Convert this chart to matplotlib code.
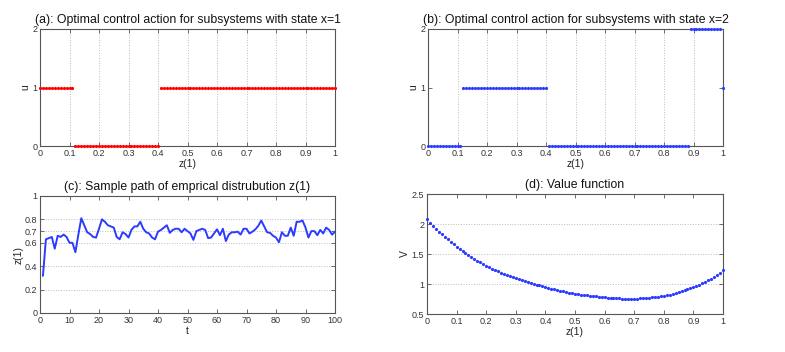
import numpy as np
import matplotlib
matplotlib.use("Agg")
import matplotlib.pyplot as plt

# ---- data ----
z_grid = [round(i * 0.01, 2) for i in range(101)]
u_x1 = [1] * 12 + [0] * 29 + [1] * 60
u_x2 = [0] * 12 + [1] * 29 + [0] * 48 + [2] * 11 + [1]

t_vals = list(range(1, 101))
z_path = [0.32, 0.63, 0.64, 0.65, 0.55, 0.66, 0.65, 0.67, 0.65, 0.60,
          0.60, 0.52, 0.67, 0.81, 0.75, 0.69, 0.675, 0.65, 0.645, 0.72,
          0.80, 0.78, 0.75, 0.74, 0.73, 0.65, 0.63, 0.69, 0.675, 0.645,
          0.71, 0.74, 0.74, 0.78, 0.72, 0.69, 0.68, 0.645, 0.63, 0.695,
          0.71, 0.73, 0.75, 0.685, 0.71, 0.72, 0.72, 0.69, 0.72, 0.70,
          0.68, 0.625, 0.70, 0.71, 0.72, 0.71, 0.64, 0.645, 0.68, 0.715,
          0.665, 0.72, 0.615, 0.67, 0.69, 0.69, 0.695, 0.67, 0.72, 0.72,
          0.68, 0.695, 0.715, 0.745, 0.79, 0.74, 0.69, 0.685, 0.66, 0.645,
          0.605, 0.69, 0.66, 0.66, 0.73, 0.66, 0.78, 0.78, 0.79, 0.73,
          0.645, 0.70, 0.70, 0.665, 0.71, 0.68, 0.73, 0.71, 0.67, 0.695]

value_fn = [2.08, 2.01, 1.963, 1.917, 1.872, 1.828, 1.785, 1.743, 1.702, 1.661,
            1.621, 1.585, 1.550, 1.516, 1.483, 1.451, 1.420, 1.390, 1.361, 1.333,
            1.305, 1.280, 1.256, 1.233, 1.211, 1.190, 1.170, 1.151, 1.133, 1.115,
            1.098, 1.081, 1.065, 1.049, 1.034, 1.019, 1.004, 0.990, 0.976, 0.963,
            0.948, 0.935, 0.922, 0.910, 0.898, 0.887, 0.876, 0.866, 0.857, 0.848,
            0.840, 0.832, 0.824, 0.817, 0.810, 0.804, 0.798, 0.792, 0.787, 0.782,
            0.777, 0.773, 0.769, 0.765, 0.762, 0.759, 0.757, 0.756, 0.755, 0.755,
            0.756, 0.757, 0.759, 0.762, 0.766, 0.771, 0.776, 0.782, 0.789, 0.796,
            0.804, 0.814, 0.825, 0.837, 0.850, 0.864, 0.879, 0.895, 0.912, 0.930,
            0.950, 0.970, 0.991, 1.013, 1.036, 1.061, 1.088, 1.117, 1.148, 1.181,
            1.24]

z_ticks = [0, 0.1, 0.2, 0.3, 0.4, 0.5, 0.6, 0.7, 0.8, 0.9, 1]
z_ticklabels = ['0', '0.1', '0.2', '0.3', '0.4', '0.5', '0.6', '0.7', '0.8', '0.9', '1']

# ---- style ----
RED = '#ff0000'
BLUE = '#2b3bff'
FRAME = '#555555'
plt.rcParams['font.family'] = ['Liberation Sans', 'DejaVu Sans']

W, H = 785, 352
fig = plt.figure(figsize=(W / 100, H / 100), dpi=100)


def ax_px(l, t, r, b):
    return fig.add_axes([l / W, 1 - b / H, (r - l) / W, (b - t) / H])


def style(ax):
    for s in ax.spines.values():
        s.set_color(FRAME)
        s.set_linewidth(0.8)
    ax.tick_params(direction='in', length=3, width=0.6, colors=FRAME,
                   labelsize=6.5, labelcolor='#333333', top=True, right=True, pad=2)


grid_kw = dict(color='#bbbbbb', linestyle=':', linewidth=0.7)
title_kw = dict(fontsize=8.8, pad=4, color='#111111')
lab_kw = dict(fontsize=7.5, color='#222222', labelpad=1)
mk_kw = dict(ms=2.3, mew=0, clip_on=False, zorder=4)

# (a)
ax1 = ax_px(40, 29, 335, 146)
ax1.plot(z_grid, u_x1, 'o', color=RED, **mk_kw)
ax1.set_xlim(0, 1)
ax1.set_ylim(0, 2)
ax1.set_xticks(z_ticks)
ax1.set_xticklabels(z_ticklabels)
ax1.set_yticks([0, 1, 2])
ax1.xaxis.grid(True, **grid_kw)
ax1.set_axisbelow(True)
style(ax1)
ax1.set_title('(a): Optimal control action for subsystems with state x=1', **title_kw)
ax1.set_xlabel('z(1)', **lab_kw)
ax1.set_ylabel('u', **lab_kw)

# (b)
ax2 = ax_px(428, 29, 723, 146)
ax2.plot(z_grid, u_x2, 'o', color=BLUE, **mk_kw)
ax2.set_xlim(0, 1)
ax2.set_ylim(0, 2)
ax2.set_xticks(z_ticks)
ax2.set_xticklabels(z_ticklabels)
ax2.set_yticks([0, 1, 2])
ax2.xaxis.grid(True, **grid_kw)
ax2.set_axisbelow(True)
style(ax2)
ax2.set_title('(b): Optimal control action for subsystems with state x=2', **title_kw)
ax2.set_xlabel('z(1)', **lab_kw)
ax2.set_ylabel('u', **lab_kw)

# (c)
ax3 = ax_px(40, 196, 335, 313)
ax3.plot(t_vals, z_path, '-', color=BLUE, lw=1.4)
ax3.set_xlim(0, 100)
ax3.set_ylim(0, 1)
ax3.set_xticks(range(0, 101, 10))
ax3.set_yticks([0, 0.2, 0.4, 0.6, 0.7, 0.8, 1])
ax3.set_yticklabels(['0', '0.2', '0.4', '0.6', '0.7', '0.8', '1'])
ax3.yaxis.grid(True, **grid_kw)
ax3.set_axisbelow(True)
style(ax3)
ax3.set_title('(c): Sample path of emprical distrubution z(1)', **title_kw)
ax3.set_xlabel('t', **lab_kw)
ax3.set_ylabel('z(1)', **lab_kw)

# (d)
ax4 = ax_px(427, 194, 723, 314)
ax4.plot(z_grid, value_fn, 'o', color=BLUE, **mk_kw)
ax4.set_xlim(0, 1)
ax4.set_ylim(0.5, 2.5)
ax4.set_xticks(z_ticks)
ax4.set_xticklabels(z_ticklabels)
ax4.set_yticks([0.5, 1, 1.5, 2, 2.5])
ax4.set_yticklabels(['0.5', '1', '1.5', '2', '2.5'])
ax4.yaxis.grid(True, **grid_kw)
ax4.set_axisbelow(True)
style(ax4)
ax4.set_title('(d): Value function', **title_kw)
ax4.set_xlabel('z(1)', **lab_kw)
ax4.set_ylabel('V', **lab_kw)

fig.savefig('out.png', dpi=100, facecolor='white')
